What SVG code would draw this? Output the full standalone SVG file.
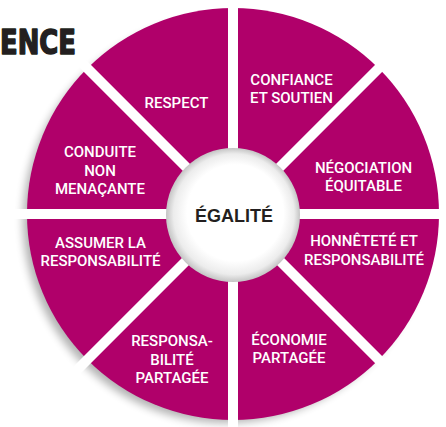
<svg xmlns="http://www.w3.org/2000/svg" width="446" height="427" viewBox="0 0 446 427">
  <defs>
    <filter id="soft" x="-20%" y="-20%" width="140%" height="140%">
      <feGaussianBlur stdDeviation="4"/>
    </filter>
    <radialGradient id="hub" cx="0.5" cy="0.5" r="0.5" fx="0.56" fy="0.44">
      <stop offset="0" stop-color="#ffffff"/>
      <stop offset="0.72" stop-color="#ffffff"/>
      <stop offset="0.9" stop-color="#ececec"/>
      <stop offset="1" stop-color="#c4c4c4"/>
    </radialGradient>
    <style>
      .wedge { fill: #b0006a; }
      .label { font-family: Roboto, "Liberation Sans", Arial, sans-serif; font-weight: 500; font-size: 15px; fill: #ffffff; text-anchor: middle; }
      .hub-label { font-family: "Liberation Sans", Arial, sans-serif; font-size: 18px; font-weight: bold; fill: #231f20; text-anchor: middle; }
      .spoke { stroke: #ffffff; stroke-width: 10; }
      .title { font-family: "DejaVu Sans", sans-serif; font-weight: bold; font-size: 33px; fill: #231f20; stroke: #231f20; stroke-width: 1.6; stroke-linejoin: round; }
    </style>
  </defs>

  <rect width="446" height="427" fill="#ffffff"/>

  <!-- soft shadow under the wheel, falling to the lower left -->
  <circle cx="226" cy="220" r="203" fill="#000" opacity="0.3" filter="url(#soft)"/>

  <!-- the eight sectors, centre (233,214), radius 206 -->
  <g id="respect">
    <path class="wedge" d="M233,214 L87.34,68.34 A206,206 0 0 1 233,8 Z"/>
    <text class="label" x="176.5" y="108">RESPECT</text>
  </g>
  <g id="confiance">
    <path class="wedge" d="M233,214 L233,8 A206,206 0 0 1 378.66,68.34 Z"/>
    <text class="label" x="291.5" y="85">CONFIANCE</text>
    <text class="label" x="291.5" y="103">ET SOUTIEN</text>
  </g>
  <g id="negociation">
    <path class="wedge" d="M233,214 L378.66,68.34 A206,206 0 0 1 439,214 Z"/>
    <text class="label" x="363.5" y="173">NÉGOCIATION</text>
    <text class="label" x="363.5" y="191">ÉQUITABLE</text>
  </g>
  <g id="honnetete">
    <path class="wedge" d="M233,214 L439,214 A206,206 0 0 1 378.66,359.66 Z"/>
    <text class="label" x="364" y="246">HONNÊTETÉ ET</text>
    <text class="label" x="364" y="265">RESPONSABILITÉ</text>
  </g>
  <g id="economie">
    <path class="wedge" d="M233,214 L378.66,359.66 A206,206 0 0 1 233,420 Z"/>
    <text class="label" x="289" y="345">ÉCONOMIE</text>
    <text class="label" x="289" y="363">PARTAGÉE</text>
  </g>
  <g id="responsabilite-partagee">
    <path class="wedge" d="M233,214 L233,420 A206,206 0 0 1 87.34,359.66 Z"/>
    <text class="label" x="172" y="346">RESPONSA-</text>
    <text class="label" x="172" y="365">BILITÉ</text>
    <text class="label" x="172" y="383">PARTAGÉE</text>
  </g>
  <g id="assumer">
    <path class="wedge" d="M233,214 L87.34,359.66 A206,206 0 0 1 27,214 Z"/>
    <text class="label" x="100.5" y="248">ASSUMER LA</text>
    <text class="label" x="100.5" y="266">RESPONSABILITÉ</text>
  </g>
  <g id="conduite">
    <path class="wedge" d="M233,214 L27,214 A206,206 0 0 1 87.34,68.34 Z"/>
    <text class="label" x="100" y="157">CONDUITE</text>
    <text class="label" x="100" y="176">NON</text>
    <text class="label" x="100" y="194">MENAÇANTE</text>
  </g>

  <!-- white separators between sectors -->
  <g id="connectors">
    <line class="spoke" x1="233" y1="214" x2="233" y2="0"/>
    <line class="spoke" x1="233" y1="214" x2="233" y2="427"/>
    <line class="spoke" x1="233" y1="214" x2="12" y2="214"/>
    <line class="spoke" x1="233" y1="214" x2="446" y2="214"/>
    <line class="spoke" x1="233" y1="214" x2="72" y2="53"/>
    <line class="spoke" x1="233" y1="214" x2="394" y2="53"/>
    <line class="spoke" x1="233" y1="214" x2="70" y2="377"/>
    <line class="spoke" x1="233" y1="214" x2="396" y2="377"/>
  </g>

  <!-- hub -->
  <g id="egalite">
    <circle cx="233" cy="215" r="67" fill="url(#hub)"/>
    <text class="hub-label" x="234" y="222">ÉGALITÉ</text>
  </g>

  <!-- heading fragment, top left -->
  <text class="title" x="0" y="54" textLength="76" lengthAdjust="spacingAndGlyphs">ENCE</text>
</svg>
